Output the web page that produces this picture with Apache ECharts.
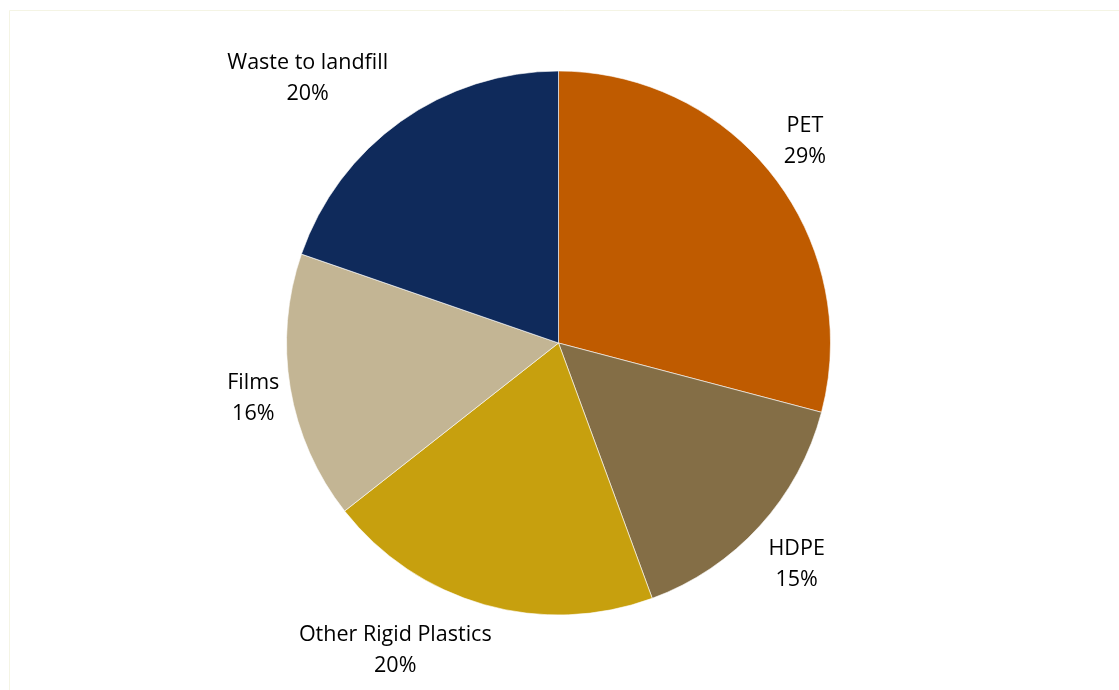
<!DOCTYPE html>
<html>
<head>
<meta charset="utf-8">
<script src="https://cdn.jsdelivr.net/npm/echarts@6/dist/echarts.min.js"></script>
<style>
html,body{margin:0;padding:0;background:#fff;}
#chart{width:1119px;height:690px;}
</style>
</head>
<body>
<div id="chart"></div>
<script>
// Data
const categories = ['PET', 'HDPE', 'Other Rigid Plastics', 'Films', 'Waste to landfill'];
const shares = [29.1, 15.3, 20.0, 15.9, 19.7];
const sliceColors = ['#bf5b00', '#846e46', '#c7a00e', '#c3b594', '#0f2a5b'];

// Layout
const CX = 558.5, CY = 343, R = 272;
// label offset from the slice's mid-point on the rim
const labelOffsets = [[31, -36], [37, 38], [-89, 46], [-37, 10], [-93, -43]];

const total = shares.reduce((a, b) => a + b, 0);
const midAngles = [];
let acc = 0;
shares.forEach(v => { midAngles.push((acc + v / 2) / total * 2 * Math.PI); acc += v; });

const chart = echarts.init(document.getElementById('chart'), null, {renderer: 'canvas'});
chart.setOption({
  animation: false,
  backgroundColor: '#ffffff',
  graphic: [{
    type: 'rect',
    shape: {x: 9.5, y: 10.5, width: 1130, height: 700},
    style: {fill: 'none', stroke: '#f4f4e4', lineWidth: 1},
    silent: true
  }],
  series: [{
    type: 'pie',
    center: [CX, CY],
    radius: [0, R],
    startAngle: 90,
    clockwise: true,
    avoidLabelOverlap: false,
    itemStyle: {borderColor: '#ffffff', borderWidth: 0.6},
    label: {
      show: true,
      position: 'outside',
      formatter: p => p.name + '\n' + Math.round(p.value) + '%',
      fontFamily: 'Open Sans',
      fontSize: 21.5,
      lineHeight: 31,
      color: '#000000',
      align: 'center'
    },
    labelLine: {show: false},
    labelLayout: function (params) {
      const i = params.dataIndex;
      const a = midAngles[i];
      return {
        x: CX + R * Math.sin(a) + labelOffsets[i][0],
        y: CY - R * Math.cos(a) + labelOffsets[i][1],
        align: 'center',
        verticalAlign: 'middle'
      };
    },
    data: categories.map((c, i) => ({name: c, value: shares[i], itemStyle: {color: sliceColors[i]}}))
  }]
});
</script>
</body>
</html>
